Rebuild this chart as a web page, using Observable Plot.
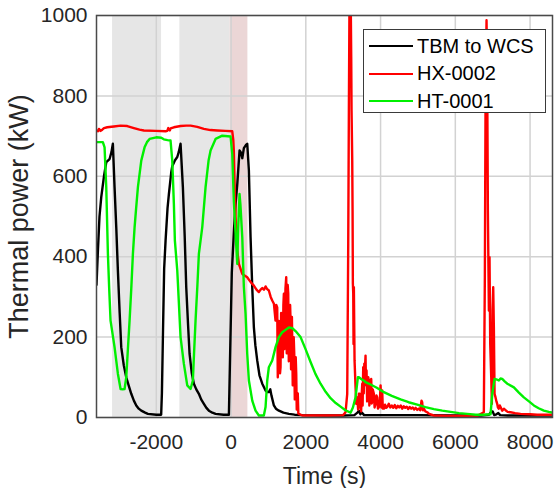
<!DOCTYPE html>
<html><head><meta charset="utf-8">
<script src="https://cdn.jsdelivr.net/npm/d3@7"></script>
<script src="https://cdn.jsdelivr.net/npm/@observablehq/plot@0.6"></script>
<style>
html,body{margin:0;padding:0;background:#fff;}
#wrap{position:relative;width:555px;height:488px;}
#legend{position:absolute;left:363px;top:29px;width:181px;height:82px;border:1.5px solid #3a3a3a;background:#fff;font-family:"Liberation Sans",Arial,sans-serif;font-size:20px;color:#000;}
#legend .row{position:absolute;left:0;height:28px;display:flex;align-items:center;white-space:nowrap;}
#legend .sw{width:44px;height:0;border-top:2.5px solid;margin-left:5px;margin-right:4px;}
g[aria-label="x-axis label"] text{font-size:23px;}
g[aria-label="y-axis label"] text{font-size:27px;}
</style></head><body><div id="wrap"></div>
<script>
const seriesNames = ["TBM to WCS", "HX-0002", "HT-0001"];
const seriesColors = ["#000000", "#ff0000", "#00f000"];
const xTicks = [-2000, 0, 2000, 4000, 6000, 8000];
const yTicks = [0, 200, 400, 600, 800, 1000];
const grayBands = [{start: -3170, end: -1860}, {start: -1370, end: -25}];
const pinkBands = [{start: -25, end: 450}];

// TBM to WCS  [time s, power kW]
const tbmToWcs = [[-3600,330],[-3560,420],[-3520,500],[-3473,548],[-3400,600],[-3339,635],[-3250,643],[-3200,660],[-3162,681],[-3117,573],[-3070,470],[-3028,366],[-2980,260],[-2938,175],[-2870,130],[-2804,100],[-2740,80],[-2670,59],[-2600,42],[-2536,30],[-2470,22],[-2402,17],[-2300,12],[-2225,9],[-2000,7],[-1870,7],[-1850,60],[-1820,220],[-1790,370],[-1752,440],[-1700,520],[-1664,555],[-1600,610],[-1573,625],[-1500,640],[-1439,648],[-1400,660],[-1351,681],[-1289,573],[-1240,450],[-1199,324],[-1150,230],[-1110,158],[-1050,110],[-995,84],[-930,70],[-861,59],[-800,45],[-727,34],[-660,24],[-593,17],[-500,12],[-414,9],[-200,7],[-58,7],[-20,180],[20,360],[80,470],[120,530],[166,580],[227,664],[260,660],[300,645],[343,670],[400,678],[433,681],[477,614],[522,448],[567,324],[610,225],[650,180],[700,142],[760,105],[835,84],[923,67],[970,63],[1011,63],[1050,70],[1080,55],[1146,30],[1200,22],[1280,17],[1400,12],[1547,9],[1700,7],[1904,6],[2500,5],[3000,5],[3300,6],[3380,12],[3420,17],[3460,8],[3500,12],[3560,6],[4000,6],[5000,6],[6000,5],[6700,5],[6900,7],[6960,14],[7000,15],[7040,6],[7100,8],[7150,11],[7200,6],[7400,5],[8600,5]];

// HX-0002
const hx0002 = [[-3600,714],[-3560,712],[-3536,718],[-3490,713],[-3446,716],[-3400,720],[-3312,722],[-3135,724],[-2956,726],[-2777,725],[-2600,720],[-2450,716],[-2332,714],[-2020,713],[-1750,712],[-1707,713],[-1680,720],[-1664,716],[-1640,714],[-1618,719],[-1530,722],[-1351,725],[-1200,726],[-1083,726],[-904,723],[-727,718],[-550,715],[-369,714],[-150,713],[32,712],[60,690],[75,660],[100,560],[120,500],[166,415],[209,382],[300,357],[433,349],[500,340],[560,333],[610,328],[680,318],[744,312],[790,318],[835,322],[880,318],[923,326],[960,320],[1011,316],[1060,300],[1102,291],[1146,283],[1170,260],[1190,241],[1210,280],[1235,274],[1250,100],[1262,158],[1280,240],[1298,225],[1310,110],[1324,125],[1340,260],[1355,200],[1369,241],[1385,150],[1400,280],[1413,308],[1425,170],[1440,175],[1455,320],[1476,349],[1490,160],[1503,208],[1515,330],[1530,308],[1545,140],[1565,158],[1580,280],[1592,241],[1605,120],[1619,142],[1628,250],[1637,192],[1650,80],[1664,92],[1676,200],[1691,158],[1705,45],[1717,50],[1730,150],[1744,109],[1757,20],[1771,26],[1785,60],[1800,10],[1814,9],[1904,5],[2200,5],[2600,5],[3000,6],[3063,13],[3108,59],[3135,432],[3152,764],[3170,1060],[3190,1080],[3205,1000],[3215,896],[3224,764],[3242,639],[3251,515],[3259,333],[3269,308],[3277,183],[3286,324],[3304,142],[3331,75],[3349,34],[3376,50],[3400,20],[3411,26],[3420,59],[3438,59],[3450,25],[3465,42],[3480,15],[3492,50],[3510,84],[3520,30],[3536,125],[3550,60],[3565,134],[3580,117],[3598,154],[3610,80],[3625,117],[3640,40],[3652,59],[3670,100],[3687,92],[3700,30],[3714,50],[3732,88],[3750,96],[3765,35],[3777,42],[3790,70],[3821,59],[3840,25],[3866,34],[3890,55],[3911,50],[3930,22],[3955,26],[3980,40],[4000,80],[4020,25],[4044,67],[4060,22],[4089,22],[4120,32],[4150,24],[4178,26],[4220,34],[4260,25],[4300,30],[4340,24],[4380,31],[4420,23],[4460,29],[4500,25],[4540,30],[4580,22],[4620,28],[4660,24],[4700,27],[4740,21],[4780,26],[4820,22],[4860,25],[4900,20],[4940,24],[4980,19],[5020,22],[5060,18],[5096,42],[5114,38],[5130,18],[5158,22],[5200,15],[5248,13],[5300,9],[5426,5],[5784,4],[6200,4],[6600,5],[6763,13],[6790,349],[6808,764],[6835,988],[6853,847],[6871,515],[6889,349],[6898,266],[6915,399],[6934,183],[6961,100],[6978,34],[6996,266],[7014,324],[7031,225],[7050,59],[7076,50],[7100,40],[7121,34],[7140,25],[7165,22],[7190,30],[7210,26],[7255,17],[7300,22],[7344,18],[7400,14],[7478,13],[7600,11],[7745,9],[8000,8],[8190,7],[8600,7]];

// HT-0001
const ht0001 = [[-3600,685],[-3430,685],[-3384,672],[-3339,573],[-3295,407],[-3260,320],[-3224,241],[-3117,175],[-3070,140],[-3028,109],[-2956,71],[-2900,70],[-2849,71],[-2804,100],[-2760,170],[-2715,241],[-2670,320],[-2626,407],[-2581,473],[-2540,520],[-2492,573],[-2402,639],[-2314,672],[-2250,685],[-2180,693],[-2001,697],[-1867,696],[-1800,692],[-1700,690],[-1619,689],[-1573,639],[-1530,532],[-1503,440],[-1439,366],[-1351,200],[-1263,134],[-1172,80],[-1083,71],[-1022,92],[-990,160],[-950,241],[-900,330],[-861,407],[-771,473],[-682,573],[-600,640],[-548,664],[-414,693],[-235,701],[-13,699],[32,656],[75,536],[120,460],[166,382],[190,470],[227,556],[250,530],[300,448],[343,324],[388,258],[433,158],[477,92],[567,42],[655,17],[744,5],[877,5],[923,26],[968,92],[1011,125],[1102,142],[1190,175],[1280,200],[1370,212],[1458,218],[1547,224],[1640,222],[1725,215],[1860,200],[1993,170],[2127,138],[2260,108],[2394,84],[2530,64],[2662,48],[2800,36],[2930,27],[3060,18],[3197,12],[3260,25],[3331,50],[3393,100],[3420,100],[3510,94],[3553,92],[3598,88],[3732,82],[3900,74],[4088,63],[4300,54],[4535,45],[4750,38],[4981,32],[5200,26],[5427,21],[5650,17],[5872,14],[6100,11],[6319,9],[6550,7],[6763,7],[6942,8],[6988,59],[7050,96],[7120,94],[7165,92],[7210,97],[7255,96],[7320,90],[7389,84],[7567,75],[7700,62],[7833,50],[7970,40],[8101,30],[8230,23],[8368,17],[8500,14],[8600,12]];

const allSeries = [tbmToWcs, hx0002, ht0001];

const chart = Plot.plot({
  width: 555,
  height: 488,
  marginLeft: 96,
  marginRight: 3,
  marginTop: 15,
  marginBottom: 71,
  style: {fontFamily: "'Liberation Sans', Arial, sans-serif", fontSize: "21px", color: "#262626", background: "#fff", overflow: "visible"},
  x: {domain: [-3600, 8600], ticks: xTicks, tickFormat: d => String(d), label: "Time (s)", labelAnchor: "center", labelOffset: 66, labelArrow: "none", tickSize: 0, tickPadding: 17},
  y: {domain: [0, 1000], ticks: yTicks, tickFormat: d => String(d), label: "Thermal power (kW)", labelAnchor: "center", labelOffset: 88, labelArrow: "none", tickSize: 0, tickPadding: 9},
  marks: [
    Plot.rect(grayBands, {x1: "start", x2: "end", fill: "#e6e6e6"}),
    Plot.rect(pinkBands, {x1: "start", x2: "end", fill: "#ebd6d6"}),
    Plot.gridX(xTicks, {stroke: "#d2d2d2", strokeOpacity: 1, strokeWidth: 1.5}),
    Plot.gridY(yTicks, {stroke: "#d2d2d2", strokeOpacity: 1, strokeWidth: 1.5}),
    ...allSeries.map((s, i) => Plot.line(s, {x: d => d[0], y: d => d[1], stroke: seriesColors[i], strokeWidth: 2.4, clip: true})),
    Plot.frame({stroke: "#4a4a4a", strokeWidth: 1.5})
  ]
});

const wrap = document.getElementById("wrap");
wrap.appendChild(chart);

const legend = document.createElement("div");
legend.id = "legend";
seriesNames.forEach((name, i) => {
  const row = document.createElement("div");
  row.className = "row";
  row.style.top = (2 + i * 27.5) + "px";
  const sw = document.createElement("span");
  sw.className = "sw";
  sw.style.borderTopColor = seriesColors[i];
  const tx = document.createElement("span");
  tx.textContent = name;
  row.appendChild(sw);
  row.appendChild(tx);
  legend.appendChild(row);
});
wrap.appendChild(legend);
</script></body></html>
